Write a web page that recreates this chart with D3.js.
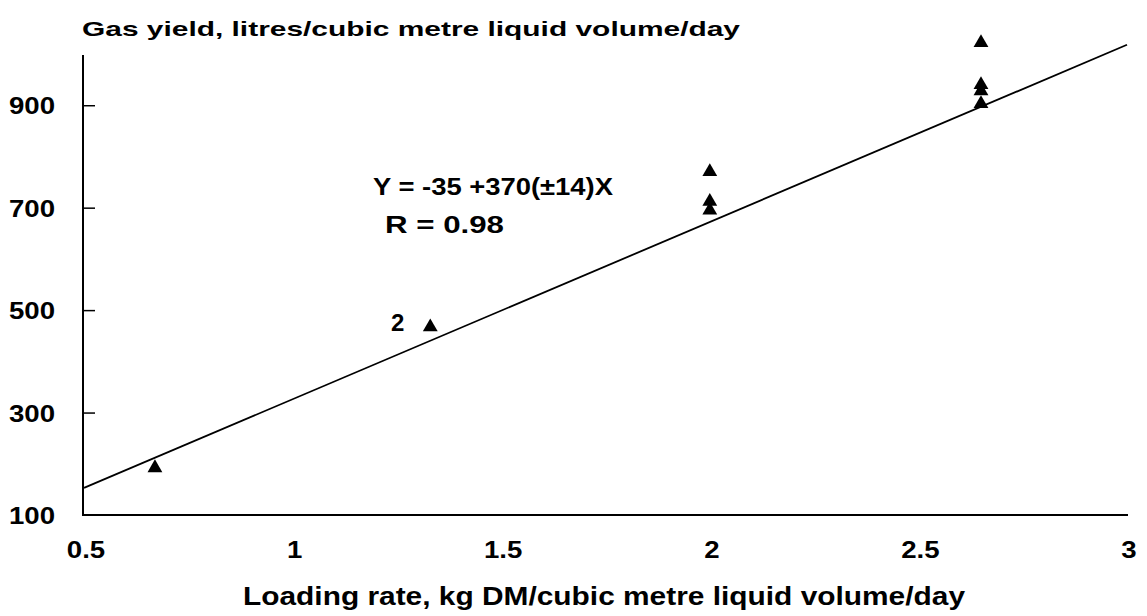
<!DOCTYPE html>
<html><head><meta charset="utf-8">
<script src="https://cdn.jsdelivr.net/npm/d3@7"></script>
<style>body{margin:0;background:#fff}svg{display:block}text{font-family:"Liberation Sans",Arial,sans-serif;font-weight:bold;fill:#000}</style>
</head><body>
<svg id="c" width="1147" height="616"></svg>
<script>
const xTicks = [0.5, 1, 1.5, 2, 2.5, 3];
const xTickLabels = ["0.5", "1", "1.5", "2", "2.5", "3"];
const yTicks = [100, 300, 500, 700, 900];
const pointX = [0.67, 1.33, 2.0, 2.0, 2.0, 2.65, 2.65, 2.65, 2.65];
const pointY = [192, 467, 770, 712, 695, 1022, 940, 928, 903];
const fitX = [0.5, 3];
const fitY = [153, 1018];

const svg = d3.select("#c");
const x = d3.scaleLinear().domain([0.5, 3]).range([84, 1127]);
const y = d3.scaleLinear().domain([100, 1000]).range([515, 54]);

// axes lines
svg.append("line").attr("x1", 83).attr("x2", 83).attr("y1", 55).attr("y2", 516).attr("stroke", "#000").attr("stroke-width", 2);
svg.append("line").attr("x1", 82).attr("x2", 1128).attr("y1", 515).attr("y2", 515).attr("stroke", "#000").attr("stroke-width", 2);

// y ticks (inward)
const yAxis = d3.axisRight(y).tickValues(yTicks.filter(v => v > 100)).tickSize(12).tickFormat("");
svg.append("g").attr("transform", "translate(83,0)").call(yAxis).call(g => g.select(".domain").remove())
  .selectAll("line").attr("stroke", "#000").attr("stroke-width", 1.5);

// y tick labels
svg.append("g").selectAll("text").data(yTicks).join("text")
  .attr("transform", d => `translate(55,${y(d) + 9}) scale(1.15,1)`).attr("text-anchor", "end").attr("font-size", 24)
  .text(d => d);

// x tick labels
svg.append("g").selectAll("text").data(xTicks).join("text")
  .attr("transform", d => `translate(${x(d) + 2},558) scale(1.15,1)`).attr("text-anchor", "middle").attr("font-size", 24)
  .text((d, i) => xTickLabels[i]);

// fit line
svg.append("line").attr("x1", x(fitX[0])).attr("y1", y(fitY[0])).attr("x2", x(fitX[1])).attr("y2", y(fitY[1]))
  .attr("stroke", "#000").attr("stroke-width", 1.8);

// points
const tri = d3.symbol().type(d3.symbolTriangle).size(95);
svg.append("g").selectAll("path").data(pointX).join("path")
  .attr("d", tri).attr("transform", (d, i) => `translate(${x(d)},${y(pointY[i])})`).attr("fill", "#000");

// annotations
svg.append("text").attr("x", 82).attr("y", 36).attr("font-size", 21).attr("textLength", 658).attr("lengthAdjust", "spacingAndGlyphs")
  .text("Gas yield, litres/cubic metre liquid volume/day");
svg.append("text").attr("x", 243).attr("y", 605).attr("font-size", 25).attr("textLength", 722).attr("lengthAdjust", "spacingAndGlyphs")
  .text("Loading rate, kg DM/cubic metre liquid volume/day");
svg.append("text").attr("x", 373).attr("y", 195).attr("font-size", 24).attr("textLength", 240).attr("lengthAdjust", "spacingAndGlyphs")
  .text("Y = -35 +370(±14)X");
svg.append("text").attr("x", 385).attr("y", 233).attr("font-size", 24).attr("textLength", 119).attr("lengthAdjust", "spacingAndGlyphs")
  .text("R  = 0.98");
svg.append("text").attr("x", 391).attr("y", 331).attr("font-size", 24).text("2");
</script>
</body></html>
